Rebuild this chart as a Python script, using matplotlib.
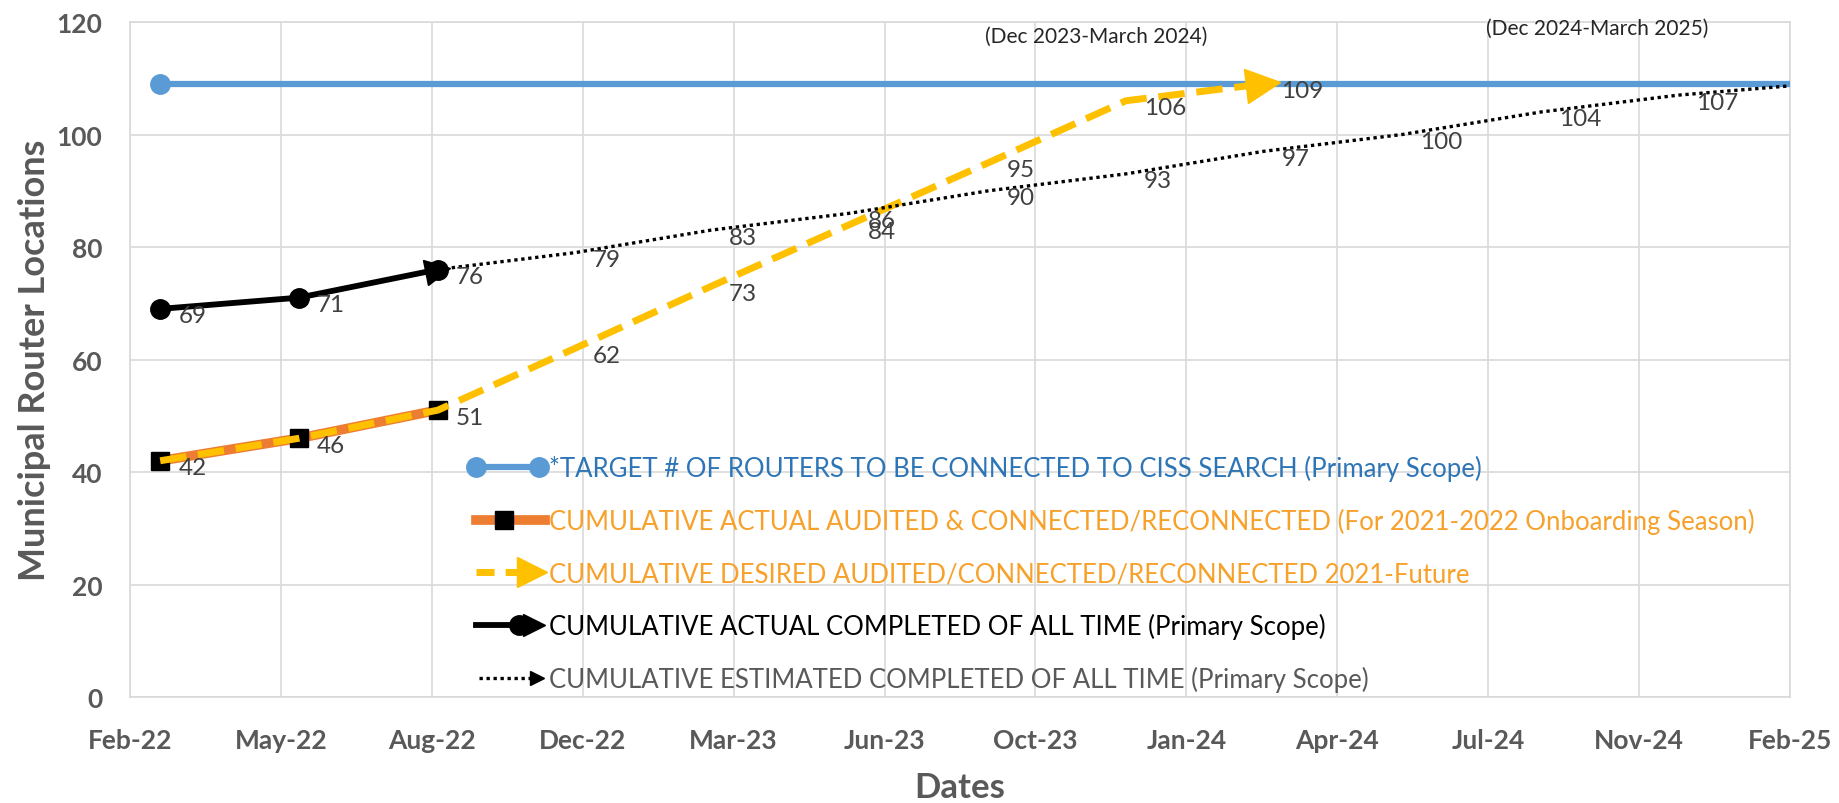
import numpy as np
import pandas as pd
import matplotlib
matplotlib.use('Agg')
import matplotlib.pyplot as plt
import matplotlib.dates as mdates
from matplotlib.lines import Line2D
from matplotlib.legend_handler import HandlerBase
from matplotlib.markers import MarkerStyle
from matplotlib.transforms import Affine2D

plt.rcParams['font.family'] = ['Lato', 'DejaVu Sans']

# Dados
datas_alvo = ['2022-02-28', '2025-03-31']
alvo = [109, 109]

datas_real = ['2022-02-28', '2022-05-31', '2022-08-31']
auditado_real = [42, 46, 51]
completo_real = [69, 71, 76]

datas_desejado = ['2022-02-28', '2022-05-31', '2022-08-31', '2022-11-30', '2023-02-28',
                  '2023-05-31', '2023-08-31', '2023-11-30', '2024-02-29']
desejado = [42, 46, 51, 62, 73, 84, 95, 106, 109]

datas_estimado = ['2022-08-31', '2022-11-30', '2023-02-28', '2023-05-31', '2023-08-31',
                  '2023-11-30', '2024-02-29', '2024-05-31', '2024-08-31', '2024-11-30',
                  '2025-02-28']
estimado = [76, 79, 83, 86, 90, 93, 97, 100, 104, 107, 109]

legendas = [
    '*TARGET # OF ROUTERS TO BE CONNECTED TO CISS SEARCH (Primary Scope)',
    'CUMULATIVE ACTUAL AUDITED & CONNECTED/RECONNECTED (For 2021-2022 Onboarding Season)',
    'CUMULATIVE DESIRED AUDITED/CONNECTED/RECONNECTED 2021-Future',
    'CUMULATIVE ACTUAL COMPLETED OF ALL TIME (Primary Scope)',
    'CUMULATIVE ESTIMATED COMPLETED OF ALL TIME (Primary Scope)',
]
periodos = ['(Dec 2023-March 2024)', '(Dec 2024-March 2025)']

# Eixo x: data inicial e passo do Excel (100 dias)
inicio = pd.Timestamp('2022-02-08')
passo_dias = 100
n_passos = 11

azul = '#5B9BD5'
laranja = '#ED7D31'
amarelo = '#FFC000'
cinza = '#595959'
cor_rotulo = '#404040'


def conv(datas):
    return mdates.date2num(pd.to_datetime(datas))


class HandlerSerie(HandlerBase):
    # desenha a linha da legenda com marcadores em posições escolhidas
    def __init__(self, linha, marcadores, inicio=0.0, fim=1.0):
        super().__init__()
        self.linha = linha
        self.marcadores = marcadores
        self.inicio = inicio
        self.fim = fim

    def create_artists(self, legend, orig_handle, xdescent, ydescent, width, height, fontsize, trans):
        y = height / 2 - ydescent
        x0, x1 = -xdescent, width - xdescent
        xa = x0 + self.inicio * (x1 - x0)
        xb = x0 + self.fim * (x1 - x0)
        artistas = [Line2D([xa, xb], [y, y], transform=trans, **self.linha)]
        for frac, kw in self.marcadores:
            artistas.append(Line2D([x0 + frac * (x1 - x0)], [y], linestyle='none', transform=trans, **kw))
        return artistas


fig = plt.figure(figsize=(18.39, 8.04), dpi=100)
ax = fig.add_axes([0.0707, 0.1318, 0.9026, 0.8396])

x_alvo = conv(datas_alvo)
x_real = conv(datas_real)
x_des = conv(datas_desejado)
x_est = conv(datas_estimado)

x_min = mdates.date2num(inicio)
x_max = x_min + passo_dias * n_passos
ax.set_xlim(x_min, x_max)
ax.set_ylim(0, 120)

ax.plot(x_alvo, alvo, color=azul, lw=4.5, marker='o', ms=14, zorder=3)
ax.plot(x_real, auditado_real, color=laranja, lw=7, marker='s', ms=13,
        mfc='black', mec='black', zorder=4)
ax.plot(x_des, desejado, color=amarelo, lw=5, dashes=(3.8, 1.7), zorder=5)
ax.plot(x_est, estimado, color='black', lw=2.4, dashes=(1, 1.1), zorder=6)
ax.plot(x_real, completo_real, color='black', lw=4.2, marker='o', ms=14, zorder=7)


def seta(xs, ys, cor, tam, z):
    # ponta de seta no último ponto, orientada pelo último segmento
    p = ax.transData.transform(np.column_stack([xs[-2:], ys[-2:]]))
    ang = np.degrees(np.arctan2(p[1, 1] - p[0, 1], p[1, 0] - p[0, 0]))
    m = MarkerStyle('>', transform=Affine2D().rotate_deg(ang))
    ax.plot([xs[-1]], [ys[-1]], linestyle='none', marker=m, ms=tam, color=cor, zorder=z)


seta(x_des, desejado, amarelo, 24, 8)
seta(x_real, completo_real, 'black', 18, 8)
seta(x_est, estimado, 'black', 11, 8)


# Rótulos de dados
def rotulos(xs, ys):
    for xv, yv in zip(xs, ys):
        ax.annotate(str(yv), (xv, yv), xytext=(13, -5), textcoords='offset points',
                    ha='left', va='center', fontsize=17.5, color=cor_rotulo,
                    annotation_clip=True, zorder=9)


rotulos(x_des, desejado)
rotulos(x_real, completo_real)
rotulos(x_est[1:], estimado[1:])

for texto, xf, yf in zip(periodos, [0.582, 0.884], [0.980, 0.991]):
    ax.text(xf, yf, texto, transform=ax.transAxes, ha='center', va='center',
            fontsize=15, color='#262626')

# Eixos e grade
ticks = x_min + passo_dias * np.arange(n_passos + 1)
ax.set_xticks(ticks)
ax.xaxis.set_major_formatter(mdates.DateFormatter('%b-%y'))
ax.set_yticks(np.arange(0, 121, 20))
ax.grid(True, color='#d9d9d9', lw=1.2)
ax.set_axisbelow(True)
for s in ax.spines.values():
    s.set_color('#d9d9d9')
    s.set_linewidth(1.2)
ax.tick_params(length=0, labelsize=19, labelcolor=cinza)
ax.tick_params(axis='x', pad=22)
ax.tick_params(axis='y', pad=20)
for t in ax.get_xticklabels() + ax.get_yticklabels():
    t.set_fontweight('bold')
ax.set_xlabel('Dates', fontsize=25, fontweight='bold', color=cinza, labelpad=14)
ax.set_ylabel('Municipal Router Locations', fontsize=26, fontweight='bold', color=cinza, labelpad=4)

# Legenda
handles = [Line2D([], []) for _ in legendas]
handlers = [
    HandlerSerie(dict(color=azul, lw=4.5), [(0.08, dict(marker='o', ms=14, color=azul)),
                                            (0.92, dict(marker='o', ms=14, color=azul))]),
    HandlerSerie(dict(color=laranja, lw=7), [(0.45, dict(marker='s', ms=13, color='black'))], 0.08, 1.0),
    HandlerSerie(dict(color=amarelo, lw=5, dashes=(2.6, 1.6)), [(0.83, dict(marker='>', ms=21, color=amarelo))], 0.08, 0.7),
    HandlerSerie(dict(color='black', lw=4.2), [(0.65, dict(marker='o', ms=14, color='black')),
                                               (0.85, dict(marker='>', ms=16, color='black'))], 0.08, 0.85),
    HandlerSerie(dict(color='black', lw=2.4, dashes=(1, 1.1)), [(0.9, dict(marker='>', ms=10, color='black'))], 0.12, 0.85),
]
leg = ax.legend(handles, legendas, handler_map=dict(zip(handles, handlers)),
                loc='lower left', bbox_to_anchor=(0.205, 0.007), frameon=False,
                fontsize=18.5, handlelength=2.9, handletextpad=0.15, labelspacing=1.05,
                borderpad=0, borderaxespad=0)
for t, c in zip(leg.get_texts(), ['#2E75B6', '#F7A12B', '#F7A12B', 'black', cinza]):
    t.set_color(c)

fig.savefig('out.png', dpi=100)
